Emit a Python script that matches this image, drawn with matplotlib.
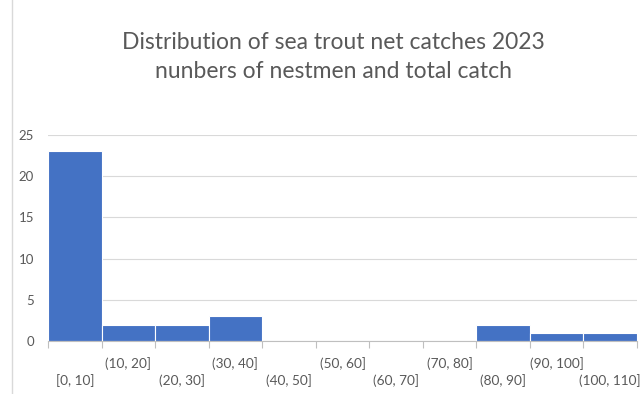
import matplotlib.pyplot as plt
from matplotlib.lines import Line2D
from matplotlib.transforms import blended_transform_factory

plt.rcParams["font.family"] = ["Lato", "DejaVu Sans"]

bin_edges = [0, 10, 20, 30, 40, 50, 60, 70, 80, 90, 100, 110]
counts = [23, 2, 2, 3, 0, 0, 0, 0, 2, 1, 1]
bin_labels = ["[0, 10]", "(10, 20]", "(20, 30]", "(30, 40]", "(40, 50]", "(50, 60]",
              "(60, 70]", "(70, 80]", "(80, 90]", "(90, 100]", "(100, 110]"]
title = "Distribution of sea trout net catches 2023\nnunbers of nestmen and total catch"

TEXT = "#595959"
BAR = "#4472C4"

fig = plt.figure(figsize=(6.43, 3.94), dpi=100)
ax = fig.add_axes([48 / 643, 53 / 394, 589 / 643, 206 / 394])

ax.bar(bin_edges[:-1], counts, width=10, align="edge", color=BAR,
       edgecolor="white", linewidth=0.8, zorder=3)

ax.set_xlim(bin_edges[0], bin_edges[-1])
ax.set_ylim(0, 25)
ax.set_yticks(range(0, 26, 5))
ax.grid(axis="y", color="#D9D9D9", linewidth=0.8, zorder=0)

for s in ["top", "right", "left"]:
    ax.spines[s].set_visible(False)
ax.spines["bottom"].set_color("#BFBFBF")
ax.spines["bottom"].set_zorder(4)

ax.set_xticks(bin_edges)
ax.set_xticklabels([])
ax.tick_params(axis="x", length=5, color="#BFBFBF", direction="out")
ax.tick_params(axis="y", length=0, labelsize=9.5, labelcolor=TEXT, pad=10)

trans = blended_transform_factory(ax.transData, ax.transAxes)
for i, lab in enumerate(bin_labels):
    xc = (bin_edges[i] + bin_edges[i + 1]) / 2
    y = -0.107 if i % 2 else -0.194
    ax.text(xc, y, lab, transform=trans, ha="center", va="center",
            fontsize=9.8, color=TEXT)

fig.text(0.518, 0.855, title, ha="center", va="center", fontsize=16.5,
         color=TEXT, linespacing=1.5)

fig.add_artist(Line2D([12 / 643, 12 / 643], [0, 1], color="#D9D9D9", linewidth=1))

fig.savefig("out.png", dpi=100)
